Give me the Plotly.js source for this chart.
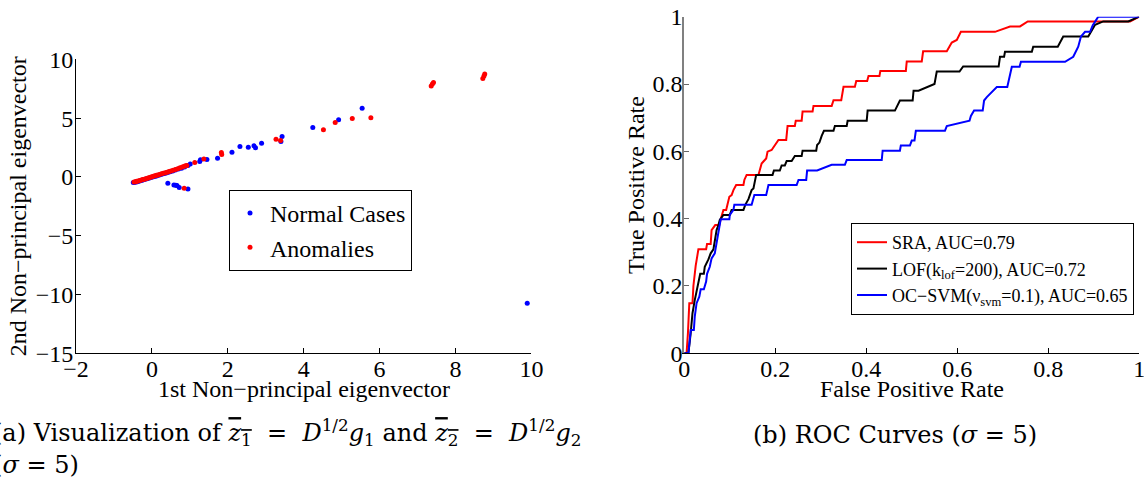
<!DOCTYPE html>
<html><head><meta charset="utf-8">
<script src="https://cdn.plot.ly/plotly-3.0.1.min.js"></script>
<style>html,body{margin:0;padding:0;background:#fff;}#chart{width:1144px;height:477px;}</style>
</head><body><div id="chart"></div>
<script>
// ---- Left panel: projections on non-principal eigenvectors ----
const normalX = [-0.49,-0.45,-0.42,-0.38,-0.35,-0.30,-0.26,-0.22,-0.18,-0.13,-0.08,-0.03,0.02,0.07,0.12,0.18,0.24,0.30,0.36,0.42,0.48,0.55,0.62,0.70,0.78,0.86,0.95,1.01,1.26,1.28,1.45,1.73,2.11,2.32,2.54,2.69,2.73,2.89,3.40,3.43,4.24,4.92,5.54,9.89,0.42,0.58,0.63,0.66,0.72,0.95];
const normalY = [-0.48,-0.46,-0.43,-0.41,-0.37,-0.33,-0.28,-0.25,-0.20,-0.16,-0.11,-0.06,-0.01,0.04,0.08,0.14,0.20,0.26,0.31,0.37,0.44,0.51,0.59,0.67,0.74,0.84,0.98,1.10,1.30,1.45,1.47,1.59,2.10,2.58,2.52,2.64,2.47,2.86,3.02,3.43,4.20,4.85,5.84,-10.74,-0.54,-0.68,-0.70,-0.74,-0.91,-1.02];
const anomalyX = [-0.47,-0.43,-0.40,-0.36,-0.32,-0.28,-0.24,-0.20,-0.16,-0.12,-0.08,-0.04,0.00,0.04,0.08,0.12,0.16,0.20,0.25,0.30,0.35,0.40,0.45,0.50,0.56,0.62,0.68,0.74,0.80,0.85,0.89,0.92,1.13,1.37,1.83,1.84,3.27,3.39,4.52,4.83,5.28,5.77,7.36,7.39,7.42,8.72,8.75,8.77,0.85];
const anomalyY = [-0.44,-0.41,-0.38,-0.35,-0.31,-0.27,-0.23,-0.19,-0.15,-0.11,-0.07,-0.03,0.01,0.05,0.09,0.13,0.17,0.21,0.26,0.31,0.36,0.40,0.45,0.50,0.57,0.63,0.70,0.78,0.85,0.90,0.94,0.97,1.22,1.53,2.07,1.90,3.20,3.09,4.00,4.62,4.96,5.02,7.74,7.91,8.02,8.36,8.59,8.76,-0.96];

// ---- Right panel: ROC curves ----
const sraFpr = [0,0.005,0.008,0.011,0.018,0.020,0.025,0.029,0.031,0.048,0.050,0.058,0.060,0.068,0.077,0.080,0.086,0.092,0.095,0.099,0.104,0.108,0.114,0.130,0.132,0.137,0.163,0.166,0.170,0.180,0.183,0.192,0.199,0.207,0.224,0.225,0.227,0.243,0.245,0.258,0.260,0.282,0.284,0.324,0.328,0.345,0.350,0.375,0.378,0.402,0.405,0.429,0.431,0.487,0.489,0.522,0.525,0.577,0.588,0.599,0.608,0.683,0.716,0.738,0.755,0.980,1.0];
const sraTpr = [0,0,0.06,0.149,0.149,0.20,0.26,0.29,0.309,0.309,0.325,0.325,0.366,0.381,0.381,0.398,0.426,0.426,0.446,0.465,0.47,0.485,0.5,0.5,0.515,0.53,0.53,0.545,0.564,0.579,0.599,0.604,0.619,0.634,0.634,0.654,0.675,0.675,0.691,0.691,0.718,0.718,0.735,0.735,0.752,0.752,0.792,0.792,0.809,0.809,0.824,0.824,0.839,0.839,0.867,0.867,0.897,0.897,0.923,0.931,0.955,0.955,0.971,0.971,0.986,0.986,1.0];
const lofFpr = [0,0.009,0.014,0.018,0.023,0.027,0.031,0.035,0.043,0.045,0.053,0.058,0.064,0.067,0.071,0.075,0.078,0.086,0.100,0.104,0.130,0.134,0.141,0.148,0.152,0.158,0.194,0.197,0.210,0.214,0.221,0.225,0.236,0.243,0.258,0.260,0.290,0.292,0.297,0.302,0.307,0.328,0.331,0.357,0.359,0.401,0.403,0.463,0.474,0.502,0.504,0.515,0.540,0.550,0.555,0.605,0.613,0.691,0.694,0.703,0.705,0.764,0.767,0.821,0.833,0.888,0.903,0.921,0.976,1.0];
const lofTpr = [0,0,0.059,0.119,0.158,0.183,0.208,0.236,0.236,0.257,0.279,0.297,0.309,0.339,0.366,0.381,0.396,0.411,0.411,0.426,0.426,0.441,0.458,0.485,0.490,0.530,0.530,0.543,0.543,0.558,0.558,0.571,0.571,0.586,0.586,0.602,0.602,0.619,0.626,0.646,0.661,0.661,0.675,0.675,0.691,0.691,0.721,0.721,0.751,0.751,0.780,0.780,0.794,0.800,0.837,0.837,0.852,0.852,0.881,0.881,0.896,0.896,0.911,0.911,0.941,0.941,0.976,0.986,0.986,1.0];
const svmFpr = [0,0.009,0.012,0.014,0.021,0.023,0.027,0.033,0.036,0.043,0.048,0.050,0.056,0.060,0.067,0.070,0.075,0.078,0.080,0.099,0.100,0.108,0.110,0.148,0.152,0.154,0.180,0.185,0.247,0.251,0.268,0.270,0.292,0.324,0.353,0.357,0.434,0.436,0.474,0.476,0.496,0.500,0.506,0.509,0.573,0.577,0.627,0.630,0.637,0.656,0.659,0.665,0.687,0.710,0.720,0.737,0.740,0.837,0.855,0.866,0.872,0.881,0.892,0.898,0.910,1.0];
const svmTpr = [0,0,0.04,0.069,0.069,0.109,0.149,0.168,0.190,0.190,0.213,0.236,0.257,0.282,0.297,0.322,0.356,0.381,0.398,0.398,0.411,0.426,0.441,0.441,0.458,0.470,0.470,0.500,0.500,0.515,0.515,0.543,0.543,0.560,0.560,0.574,0.574,0.602,0.602,0.617,0.617,0.632,0.632,0.661,0.661,0.675,0.691,0.705,0.721,0.721,0.751,0.761,0.791,0.791,0.851,0.851,0.866,0.866,0.881,0.911,0.941,0.955,0.955,0.975,1.0,1.0];

const seriesNames = ['Normal Cases','Anomalies'];
const rocNames = ['SRA, AUC=0.79','LOF(k<sub>lof</sub>=200), AUC=0.72','OC\u2212SVM(\u03bd<sub>svm</sub>=0.1), AUC=0.65'];
const xTicksLeft = [-2,0,2,4,6,8,10];
const yTicksLeft = [-15,-10,-5,0,5,10];
const ticksRoc = [0,0.2,0.4,0.6,0.8,1];
const axisTitles = ['1st Non\u2212principal eigenvector','2nd Non\u2212principal eigenvector','False Positive Rate','True Positive Rate'];

const FONT = "'Liberation Serif', 'Times New Roman', serif";
const CAPFONT = "'DejaVu Serif', serif";
const W = 1144, H = 477;
const px = v => v / W, py = v => 1 - v / H;

const traces = [
  {x: normalX, y: normalY, name: seriesNames[0], type: 'scatter', mode: 'markers',
   marker: {color: '#0000ff', size: 5}, xaxis: 'x', yaxis: 'y', legend: 'legend', cliponaxis: false},
  {x: anomalyX, y: anomalyY, name: seriesNames[1], type: 'scatter', mode: 'markers',
   marker: {color: '#ff0000', size: 5}, xaxis: 'x', yaxis: 'y', legend: 'legend', cliponaxis: false},
  {x: sraFpr, y: sraTpr, name: rocNames[0], type: 'scatter', mode: 'lines',
   line: {color: '#ff0000', width: 2}, xaxis: 'x2', yaxis: 'y2', legend: 'legend2'},
  {x: lofFpr, y: lofTpr, name: rocNames[1], type: 'scatter', mode: 'lines',
   line: {color: '#000000', width: 2}, xaxis: 'x2', yaxis: 'y2', legend: 'legend2'},
  {x: svmFpr, y: svmTpr, name: rocNames[2], type: 'scatter', mode: 'lines',
   line: {color: '#0000ff', width: 2}, xaxis: 'x2', yaxis: 'y2', legend: 'legend2'}
];

const axisBase = {showgrid: false, zeroline: false, showline: true, linecolor: '#000', linewidth: 1,
  ticks: 'inside', ticklen: 5, tickcolor: '#000', mirror: false, fixedrange: true,
  tickfont: {family: FONT, size: 24, color: '#000'}};
const titleFont = {family: FONT, size: 24, color: '#000'};

const layout = {
  width: W, height: H,
  margin: {l: 0, r: 0, t: 0, b: 0},
  paper_bgcolor: '#fff', plot_bgcolor: '#fff',
  font: {family: FONT, color: '#000'},
  showlegend: true,
  xaxis: Object.assign({}, axisBase, {domain: [px(76), px(531.4)], range: [-2, 10], tickvals: xTicksLeft,
    anchor: 'y', ticklabelstandoff: -6}),
  yaxis: Object.assign({}, axisBase, {domain: [py(353.3), py(59.3)], range: [-15, 10], tickvals: yTicksLeft,
    anchor: 'x', ticklabelstandoff: -3, title: {text: axisTitles[1], font: titleFont, standoff: 2}}),
  xaxis2: Object.assign({}, axisBase, {domain: [px(684.3), px(1139.2)], range: [0, 1], tickvals: ticksRoc,
    anchor: 'y2', ticklabelstandoff: -6, ticklabeloverflow: 'allow'}),
  yaxis2: Object.assign({}, axisBase, {domain: [py(353.3), py(16.7)], range: [0, 1], tickvals: ticksRoc,
    anchor: 'x2', linecolor: '#808080', linewidth: 2, tickcolor: '#666', ticklabelstandoff: -5,
    title: {text: axisTitles[3], font: titleFont, standoff: 1}}),
  legend: {x: px(229), y: py(190), xanchor: 'left', yanchor: 'top', bgcolor: '#fff',
    bordercolor: '#000', borderwidth: 1, font: {family: FONT, size: 24}, tracegroupgap: 0, itemclick: false},
  legend2: {x: px(1134), y: py(223), xanchor: 'right', yanchor: 'top', bgcolor: '#fff',
    bordercolor: '#000', borderwidth: 1, font: {family: FONT, size: 18}, tracegroupgap: 0, itemclick: false},
  annotations: [
    {xref: 'x domain', yref: 'paper', x: 0.5, y: py(389), xanchor: 'center', yanchor: 'middle', showarrow: false,
     font: titleFont, text: axisTitles[0]},
    {xref: 'x2 domain', yref: 'paper', x: 0.5, y: py(389), xanchor: 'center', yanchor: 'middle', showarrow: false,
     font: titleFont, text: axisTitles[2]},
    {xref: 'paper', yref: 'paper', x: px(-9), y: py(432), xanchor: 'left', yanchor: 'middle', showarrow: false, align: 'left',
     font: {family: CAPFONT, size: 24, color: '#000'},
     text: '(a) Visualization of <span style="text-decoration:overline"><i>z</i><sub>1</sub></span>\u00a0 = \u00a0<i>D</i><sup>1/2</sup><i>g</i><sub>1</sub> and <span style="text-decoration:overline"><i>z</i><sub>2</sub></span>\u00a0 = \u00a0<i>D</i><sup>1/2</sup><i>g</i><sub>2</sub>'},
    {xref: 'paper', yref: 'paper', x: px(-9), y: py(465), xanchor: 'left', yanchor: 'middle', showarrow: false, align: 'left',
     font: {family: CAPFONT, size: 24, color: '#000'}, text: '(<i>\u03c3</i> = 5)'},
    {xref: 'paper', yref: 'paper', x: px(895), y: py(435), xanchor: 'center', yanchor: 'middle', showarrow: false,
     font: {family: CAPFONT, size: 24, color: '#000'}, text: '(b) ROC Curves (<i>\u03c3</i> = 5)'}
  ]
};

Plotly.newPlot('chart', traces, layout, {displayModeBar: false, staticPlot: true});
</script></body></html>
